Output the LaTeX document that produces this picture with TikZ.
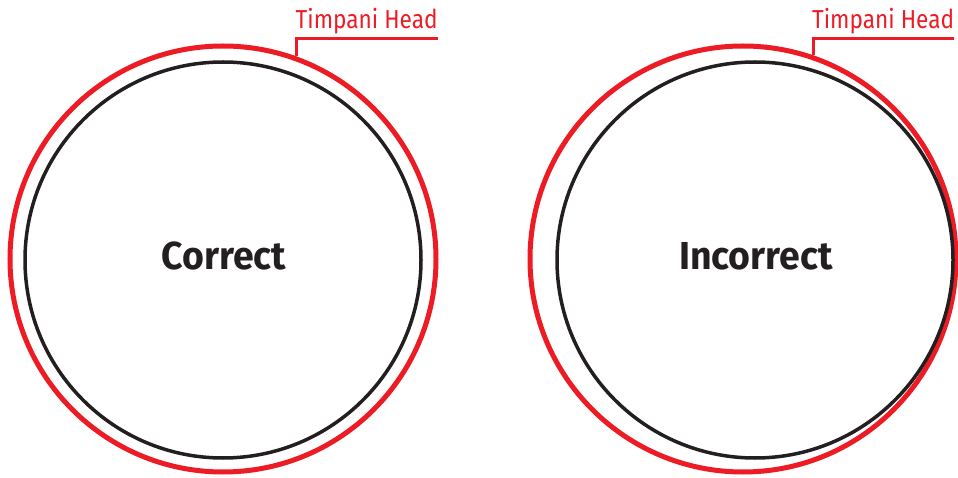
\documentclass[tikz,border=0pt]{standalone}
\usepackage{fontspec}
\newfontfamily\tagfont{Fira Sans}[FakeStretch=0.87]
\newfontfamily\wordfont{Fira Sans}[FakeStretch=0.96]
\usetikzlibrary{calc}
\definecolor{headred}{HTML}{ED1C24}
\definecolor{shellblack}{HTML}{231F20}

\begin{document}
\begin{tikzpicture}[x=1pt, y=-1pt,
    head/.style={circle, draw=headred, line width=5pt, minimum size=426pt, inner sep=0pt},
    shell/.style={circle, draw=shellblack, line width=3.5pt, minimum size=396pt, inner sep=0pt},
    tag/.style={text=headred, font=\tagfont\fontsize{26}{26}\selectfont, inner sep=0pt, outer sep=0pt, anchor=south west},
    word/.style={text=shellblack, font=\wordfont\bfseries\fontsize{39}{39}\selectfont, anchor=base}]
    \useasboundingbox (0,0) rectangle (958,478);

    % drum: name / head centre / shell shift / angle of tag line / text
    \foreach \n/\cx/\dx/\a/\w in {L/223/0/70/Correct, R/743/12/71/Incorrect} {
        \node[head] (head\n) at (\cx,259) {};
        \node[shell] (shell\n) at (\cx+\dx,260) {};
        \node[word] (word\n) at (\cx+\dx+1,270) {\w};
        \coordinate (foot\n) at (head\n.\a);
        \node[tag] (tag\n) at ($(foot\n|-0,39)+(-1,-5)$) {Timpani Head};
        \draw[headred, line width=3pt] (foot\n) |- ($(tag\n.south east)+(0,5)$);
    }
\end{tikzpicture}
\end{document}
